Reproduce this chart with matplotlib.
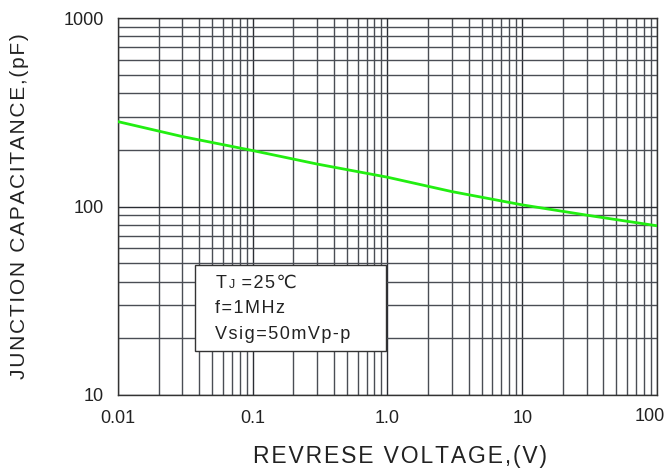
import matplotlib.pyplot as plt
from matplotlib.patches import Rectangle
from matplotlib.ticker import LogLocator, NullFormatter
from matplotlib.transforms import ScaledTranslation

plt.rcParams['font.family'] = ['Liberation Sans', 'DejaVu Sans']

# reverse voltage (V) and junction capacitance (pF)
voltage = [0.01, 0.03, 0.1, 0.3, 1, 3, 10, 30, 100]
capacitance = [282, 235, 198, 168, 143, 120, 102, 90, 79]

x_ticks = [0.01, 0.1, 1, 10, 100]
x_labels = ["0.01", "0.1", "1.0", "10", "100"]
y_ticks = [10, 100, 1000]
y_labels = ["10", "100", "1000"]

HAIR = "\u200a"


def spaced(s):
    # the original text has a wide letter spacing
    return HAIR.join(s)


def main():
    fig = plt.figure(figsize=(6.69, 4.69), dpi=100)
    ax = fig.add_axes([0.1764, 0.1578, 0.8056, 0.8038])

    ax.set_xscale("log")
    ax.set_yscale("log")
    ax.set_xlim(0.01, 100)
    ax.set_ylim(10, 1000)

    ax.set_xticks(x_ticks)
    ax.set_xticklabels(x_labels)
    ax.set_yticks(y_ticks)
    ax.set_yticklabels(y_labels)
    ax.xaxis.set_minor_locator(LogLocator(base=10, subs=range(2, 10)))
    ax.yaxis.set_minor_locator(LogLocator(base=10, subs=range(2, 10)))
    ax.xaxis.set_minor_formatter(NullFormatter())
    ax.yaxis.set_minor_formatter(NullFormatter())
    ax.tick_params(which="both", length=0, labelsize=13, colors="#222222")
    ax.tick_params(axis="x", pad=11)
    ax.tick_params(axis="y", pad=10)

    # the last x label sits a little left and up, as in the original
    last = ax.get_xticklabels()[-1]
    last.set_transform(last.get_transform()
                       + ScaledTranslation(-5 / 72, 1.5 / 72, fig.dpi_scale_trans))

    # grid
    ax.grid(True, which="major", color="#2a2d33", linewidth=1.0)
    ax.grid(True, which="minor", color="#4a4d54", linewidth=1.0)
    for s in ax.spines.values():
        s.set_color("#333333")
        s.set_linewidth(1.0)

    ax.plot(voltage, capacitance, color="#22ee11", linewidth=2, zorder=3)

    ax.set_xlabel(spaced("REVRESE VOLTAGE,(V)"), fontsize=16.5, color="#222222")
    ax.xaxis.set_label_coords(0.523, -0.133)
    ax.set_ylabel(spaced("JUNCTION CAPACITANCE,(pF)"), fontsize=15, color="#222222")
    ax.yaxis.set_label_coords(-0.165, 0.5)

    # condition box
    box = Rectangle((0.037, 17.1), 0.98 - 0.037, 49 - 17.1, facecolor="white",
                    edgecolor="#333333", linewidth=1.0, zorder=4)
    ax.add_patch(box)

    tx = 0.0527
    fs = 13
    t = ax.text(tx, 39.0, "T", fontsize=fs, color="#222222",
                va="center", ha="left", zorder=5)
    j = ax.annotate("J", xy=(1, 0), xycoords=t, xytext=(2, 1),
                    textcoords="offset points", fontsize=9, color="#222222",
                    va="bottom", ha="left", zorder=5)
    ax.annotate(spaced(" =25\u2103"), xy=(1, 0), xycoords=j, xytext=(0, -1),
                textcoords="offset points", fontsize=fs, color="#222222",
                va="bottom", ha="left", zorder=5)
    ax.text(tx, 28.6, spaced("f=1MHz"), fontsize=fs, color="#222222",
            va="center", ha="left", zorder=5)
    ax.text(tx, 20.9, spaced("Vsig=50mVp-p"), fontsize=fs, color="#222222",
            va="center", ha="left", zorder=5)

    plt.savefig("out.png", dpi=100)


if __name__ == "__main__":
    main()
